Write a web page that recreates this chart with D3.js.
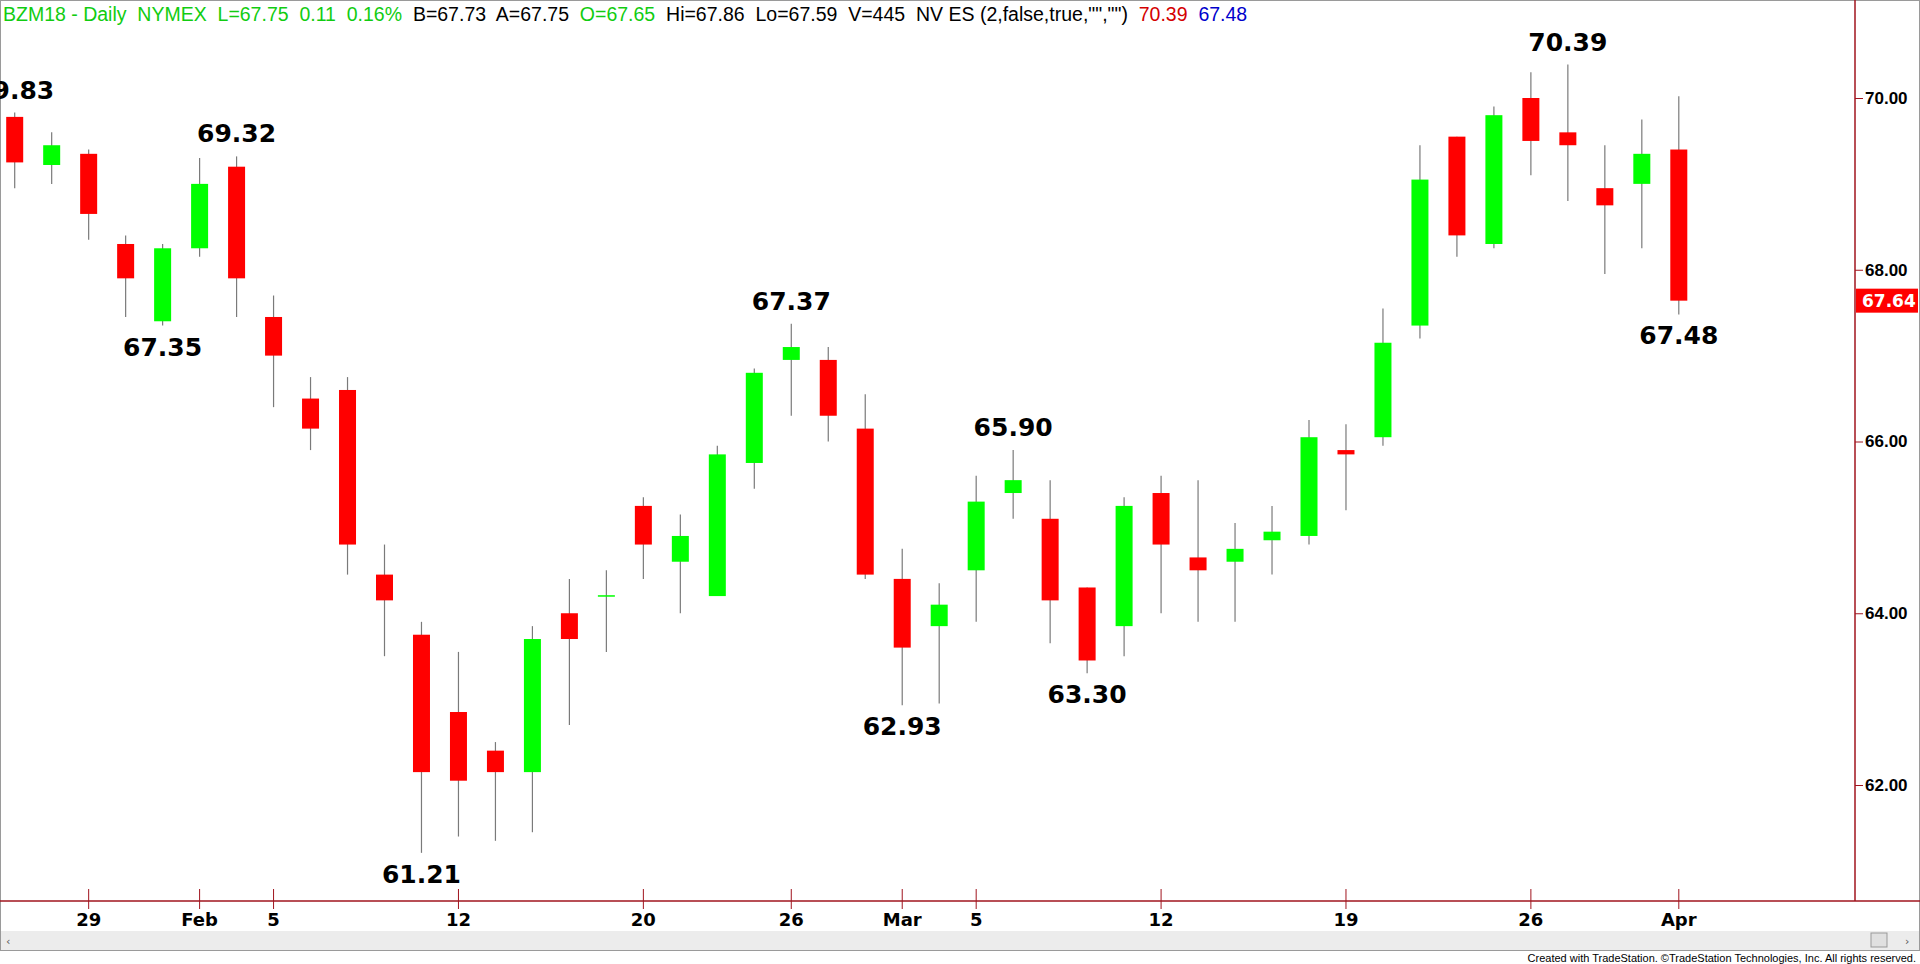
<!DOCTYPE html>
<html>
<head>
<meta charset="utf-8">
<script src="https://cdn.jsdelivr.net/npm/d3@7"></script>
<style>
  body { margin: 0; background: #fff; overflow: hidden; }
  svg { display: block; }
</style>
</head>
<body>
<div id="chart"></div>
<script>
// daily bars, Jan 25 - Apr 2 (trading days only)
const dates = ['Jan25','Jan26','Jan29','Jan30','Jan31','Feb1','Feb2','Feb5','Feb6','Feb7','Feb8','Feb9',
  'Feb12','Feb13','Feb14','Feb15','Feb16','Feb20','Feb21','Feb22','Feb23','Feb26','Feb27','Feb28',
  'Mar1','Mar2','Mar5','Mar6','Mar7','Mar8','Mar9','Mar12','Mar13','Mar14','Mar15','Mar16',
  'Mar19','Mar20','Mar21','Mar22','Mar23','Mar26','Mar27','Mar28','Mar29','Apr2'];
const opens = [69.78,69.22,69.35,68.30,67.40,68.25,69.20,67.45,66.50,66.60,64.45,63.75,
  62.85,62.40,62.15,64.00,64.20,65.25,64.60,64.20,65.75,66.95,66.95,66.15,
  64.40,63.85,64.50,65.40,65.10,64.30,63.85,65.40,64.65,64.60,64.85,64.90,
  65.90,66.05,67.35,69.55,68.30,70.00,69.60,68.95,69.00,69.40];
const highs = [69.83,69.60,69.40,68.40,68.30,69.30,69.32,67.70,66.75,66.75,64.80,63.90,
  63.55,62.50,63.85,64.40,64.50,65.35,65.15,65.95,66.85,67.37,67.10,66.55,
  64.75,64.35,65.60,65.90,65.55,64.30,65.35,65.60,65.55,65.05,65.25,66.25,
  66.20,67.55,69.45,69.55,69.90,70.30,70.39,69.45,69.75,70.02];
const lows = [68.95,69.00,68.35,67.45,67.35,68.15,67.45,66.40,65.90,64.45,63.50,61.21,
  61.40,61.35,61.45,62.70,63.55,64.40,64.00,64.20,65.45,66.30,66.00,64.40,
  62.93,62.95,63.90,65.10,63.65,63.30,63.50,64.00,63.90,63.90,64.45,64.80,
  65.20,65.95,67.20,68.15,68.25,69.10,68.80,67.95,68.25,67.48];
const closes = [69.25,69.45,68.65,67.90,68.25,69.00,67.90,67.00,66.15,64.80,64.15,62.15,
  62.05,62.15,63.70,63.70,64.21,64.80,64.90,65.85,66.80,67.10,66.30,64.45,
  63.60,64.10,65.30,65.55,64.15,63.45,65.25,64.80,64.50,64.75,64.95,66.05,
  65.85,67.15,69.05,68.40,69.80,69.50,69.45,68.75,69.35,67.64];

const xTickDays = ['Jan29','Feb1','Feb5','Feb12','Feb20','Feb26','Mar1','Mar5','Mar12','Mar19','Mar26','Apr2'];
const xTickLabels = ['29','Feb','5','12','20','26','Mar','5','12','19','26','Apr'];
const yTicks = [62, 64, 66, 68, 70];

const swingHighs = [['Jan25', 69.83], ['Feb2', 69.32], ['Feb26', 67.37], ['Mar6', 65.90], ['Mar27', 70.39]];
const swingLows = [['Jan31', 67.35], ['Feb9', 61.21], ['Mar1', 62.93], ['Mar8', 63.30], ['Apr2', 67.48]];
const lastPrice = 67.64;

const w = 1920, h = 964;
const axisX = 1855, axisY = 901;
const red = '#ff0000', green = '#00ff00', axisCol = '#a0141e';

const bars = dates.map((d, i) => ({ d, i, o: opens[i], h: highs[i], l: lows[i], c: closes[i] }));

const xScale = d3.scaleLinear().domain([0, dates.length - 1]).range([14.7, 1678.8]);
const yScale = d3.scaleLinear().domain([62, 70]).range([785, 98]);
const xOf = d => xScale(dates.indexOf(d));

const svg = d3.select('#chart').append('svg').attr('width', w).attr('height', h)
  .style('font-family', '"DejaVu Sans", sans-serif');

// frame
svg.append('rect').attr('x', 0.5).attr('y', 0.5).attr('width', w - 1).attr('height', 950)
  .attr('fill', 'none').attr('stroke', '#9a9a9a');

// wicks
svg.selectAll('line.wick').data(bars).enter().append('line')
  .attr('class', 'wick')
  .attr('x1', d => xScale(d.i)).attr('x2', d => xScale(d.i))
  .attr('y1', d => yScale(d.h)).attr('y2', d => yScale(d.l))
  .attr('stroke', '#7a7a7a').attr('stroke-width', 1.2);

// bodies
const bw = 17;
svg.selectAll('rect.body').data(bars).enter().append('rect')
  .attr('class', 'body')
  .attr('x', d => xScale(d.i) - bw / 2)
  .attr('y', d => yScale(Math.max(d.o, d.c)))
  .attr('width', bw)
  .attr('height', d => Math.max(1.5, Math.abs(yScale(d.o) - yScale(d.c))))
  .attr('fill', d => d.c >= d.o ? green : red);

// annotations
svg.selectAll('text.hi').data(swingHighs).enter().append('text')
  .attr('x', d => xOf(d[0])).attr('y', d => yScale(highs[dates.indexOf(d[0])]) - 14)
  .attr('text-anchor', 'middle').attr('font-size', 25).attr('font-weight', 'bold')
  .text(d => d[1].toFixed(2));
svg.selectAll('text.lo').data(swingLows).enter().append('text')
  .attr('x', d => xOf(d[0])).attr('y', d => yScale(lows[dates.indexOf(d[0])]) + 30)
  .attr('text-anchor', 'middle').attr('font-size', 25).attr('font-weight', 'bold')
  .text(d => d[1].toFixed(2));

// y axis
const yAxis = d3.axisRight(yScale).tickValues(yTicks).tickFormat(d3.format('.2f')).tickSize(8).tickSizeOuter(0);
const gy = svg.append('g').attr('transform', 'translate(' + axisX + ',0)').call(yAxis);
gy.select('.domain').remove();
gy.selectAll('line').attr('stroke', axisCol);
gy.selectAll('text').attr('font-size', 17).attr('font-weight', 'bold').attr('fill', '#000').attr('x', 10);
svg.append('line').attr('x1', axisX).attr('x2', axisX).attr('y1', 0).attr('y2', axisY)
  .attr('stroke', axisCol).attr('stroke-width', 1.5);

// last price tag
svg.append('rect').attr('x', axisX + 1).attr('y', yScale(lastPrice) - 12).attr('width', w - axisX - 3).attr('height', 24)
  .attr('fill', red);
svg.append('text').attr('x', axisX + 7).attr('y', yScale(lastPrice) + 6.5)
  .attr('font-size', 17).attr('font-weight', 'bold').attr('fill', '#fff').text(lastPrice.toFixed(2));

// x axis
svg.append('line').attr('x1', 0).attr('x2', w).attr('y1', axisY).attr('y2', axisY)
  .attr('stroke', axisCol).attr('stroke-width', 1.5);
const gx = svg.append('g');
gx.selectAll('line').data(xTickDays).enter().append('line')
  .attr('x1', d => xOf(d)).attr('x2', d => xOf(d))
  .attr('y1', axisY - 12).attr('y2', axisY + 8)
  .attr('stroke', axisCol);
gx.selectAll('text').data(xTickDays).enter().append('text')
  .attr('x', d => xOf(d)).attr('y', axisY + 25)
  .attr('text-anchor', 'middle').attr('font-size', 18).attr('font-weight', 'bold')
  .text((d, i) => xTickLabels[i]);

// scrollbar
svg.append('rect').attr('x', 1).attr('y', 931).attr('width', w - 2).attr('height', 19).attr('fill', '#ececec');
svg.append('rect').attr('x', 1871).attr('y', 933).attr('width', 16).attr('height', 14)
  .attr('fill', '#e0e0e0').attr('stroke', '#999');
svg.append('text').attr('x', 6).attr('y', 945).attr('font-size', 11).attr('fill', '#555').text('‹');
svg.append('text').attr('x', 1905).attr('y', 945).attr('font-size', 11).attr('fill', '#555').text('›');

// footer
svg.append('text').attr('x', w - 4).attr('y', 962).attr('text-anchor', 'end')
  .attr('font-family', '"Liberation Sans", Arial, sans-serif').attr('font-size', 11).attr('fill', '#000')
  .text('Created with TradeStation. ©TradeStation Technologies, Inc. All rights reserved.');

// header
const header = [
  ['BZM18 - Daily  NYMEX  L=67.75  0.11  0.16%  ', '#11cc11'],
  ['B=67.73  A=67.75  ', '#000'],
  ['O=67.65  ', '#11cc11'],
  ['Hi=67.86  Lo=67.59  V=445  NV ES (2,false,true,"","")  ', '#000'],
  ['70.39  ', '#d40000'],
  ['67.48', '#0000cc']
];
const ht = svg.append('text').attr('x', 3).attr('y', 21)
  .attr('font-family', '"Liberation Sans", Arial, sans-serif').attr('font-size', 19.5)
  .attr('xml:space', 'preserve').style('white-space', 'pre');
ht.selectAll('tspan').data(header).enter().append('tspan')
  .attr('fill', d => d[1]).text(d => d[0]);
</script>
</body>
</html>
